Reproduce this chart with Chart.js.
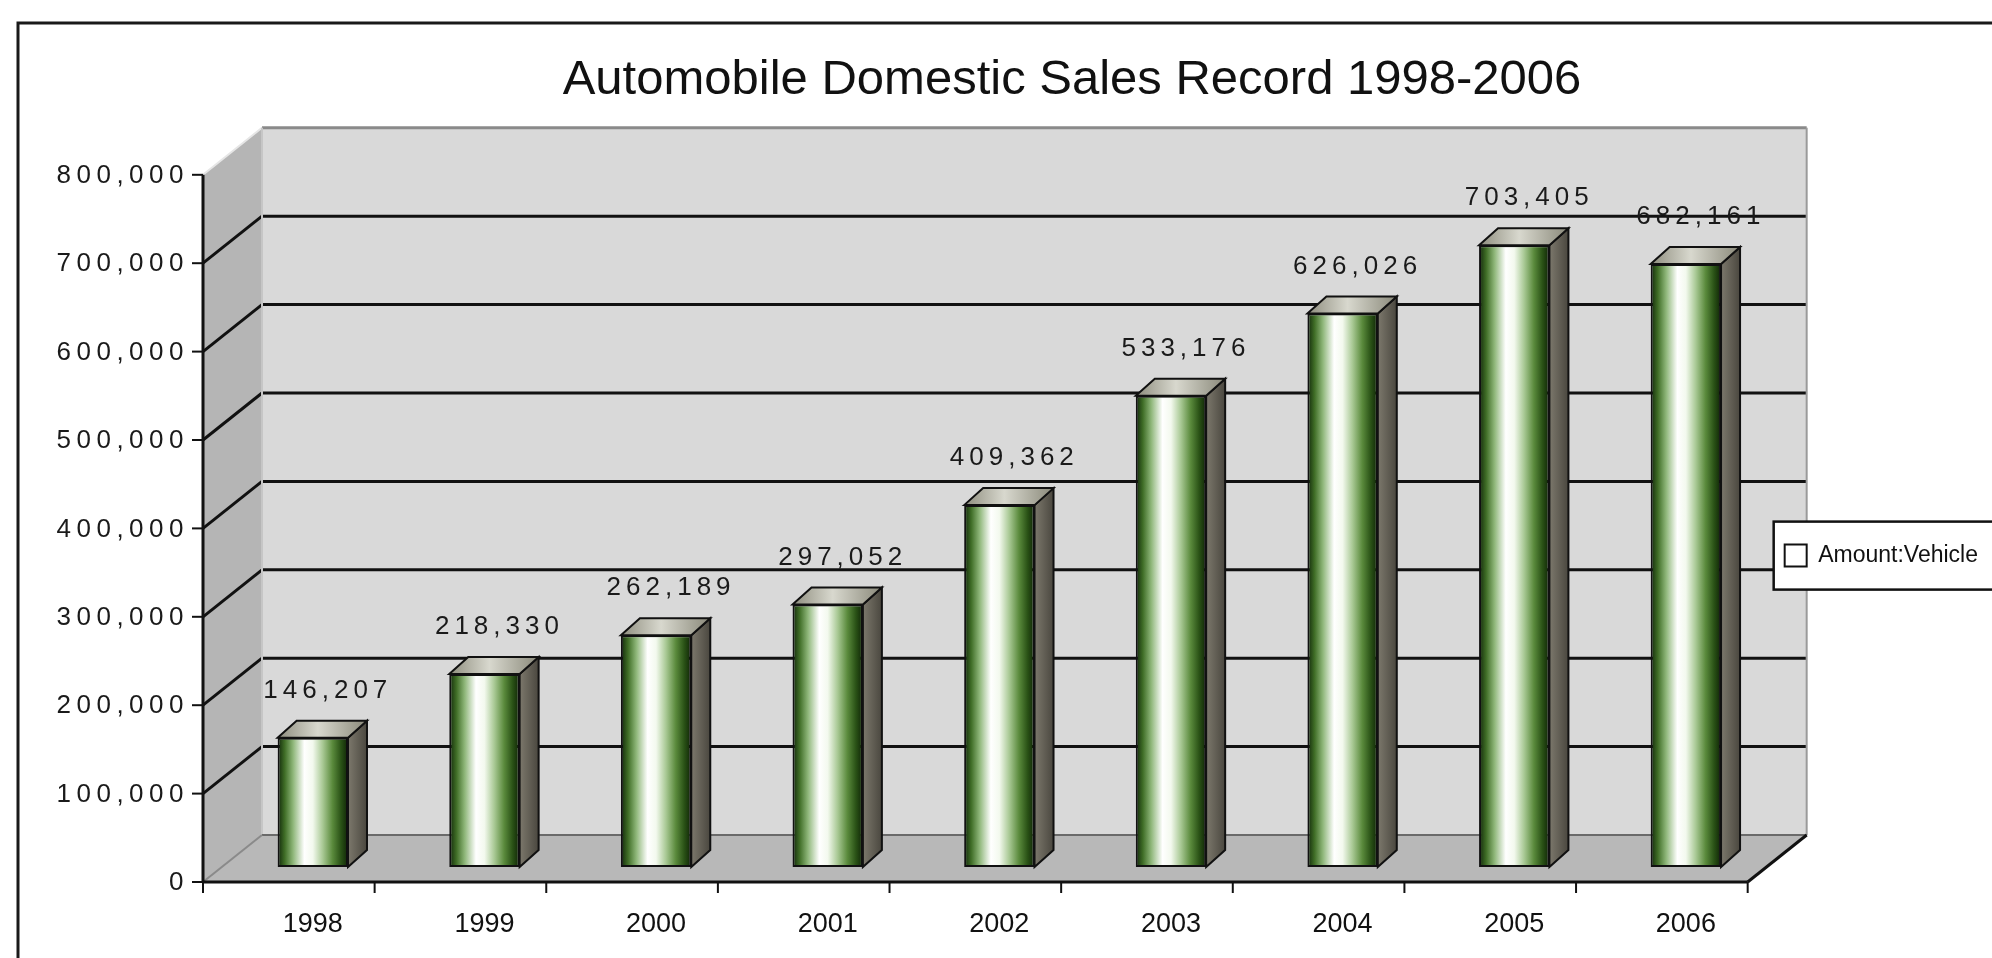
<!DOCTYPE html>
<html>
<head>
<meta charset="utf-8">
<title>Automobile Domestic Sales Record 1998-2006</title>
<script src="https://cdn.jsdelivr.net/npm/chart.js@4.4.1/dist/chart.umd.min.js"></script>
<style>
  html, body { margin: 0; padding: 0; background: #ffffff; overflow: hidden; }
  .chart-container { position: relative; width: 1992px; height: 958px; }
</style>
</head>
<body>
<div class="chart-container">
  <canvas id="salesChart"></canvas>
</div>
<script>
const years = ['1998', '1999', '2000', '2001', '2002', '2003', '2004', '2005', '2006'];
const vehicles = [146207, 218330, 262189, 297052, 409362, 533176, 626026, 703405, 682161];
const yTicks = [0, 100000, 200000, 300000, 400000, 500000, 600000, 700000, 800000];
const seriesLabel = 'Amount:Vehicle';
const chartTitle = 'Automobile Domestic Sales Record 1998-2006';

// 3D look: offsets from the bar plane (the chart area) to the front edge and the back wall
const FRONT = { x: -24, y: 15 };
const BACK = { x: 35, y: -32 };
const BAR_DEPTH = { x: 19, y: 17 };
const BAR_PCT = 0.41;
const LABEL_FONT = '26px Arial, "Liberation Sans", sans-serif';

const fmt = v => v.toLocaleString('en-US');

function frontGradient(context) {
  const chart = context.chart;
  const xs = chart.scales.x;
  if (context.type !== 'data' || !chart.chartArea || !xs) return '#ffffff';
  const step = xs.width / years.length;
  const cx = xs.getPixelForValue(context.dataIndex);
  const half = step * BAR_PCT / 2;
  const g = chart.ctx.createLinearGradient(cx - half, 0, cx + half, 0);
  g.addColorStop(0, '#10260a');
  g.addColorStop(0.1, '#3f6d26');
  g.addColorStop(0.22, '#8fb77a');
  g.addColorStop(0.38, '#ffffff');
  g.addColorStop(0.5, '#f3f9ee');
  g.addColorStop(0.64, '#a9c995');
  g.addColorStop(0.78, '#5a8a3c');
  g.addColorStop(0.9, '#2a5216');
  g.addColorStop(1, '#0f2406');
  return g;
}

function line(ctx, x1, y1, x2, y2, color, w) {
  ctx.beginPath();
  ctx.moveTo(x1, y1);
  ctx.lineTo(x2, y2);
  ctx.strokeStyle = color;
  ctx.lineWidth = w;
  ctx.stroke();
}

function poly(ctx, pts, fill) {
  ctx.beginPath();
  pts.forEach((p, i) => (i ? ctx.lineTo(p[0], p[1]) : ctx.moveTo(p[0], p[1])));
  ctx.closePath();
  ctx.fillStyle = fill;
  ctx.fill();
}

// walls, floor, gridlines, axis lines, y tick labels and the legend frame
const frame3d = {
  id: 'frame3d',
  beforeDraw(chart) {
    const { ctx, chartArea: a, scales: { x, y } } = chart;
    const max = yTicks[yTicks.length - 1];
    const fl = a.left + FRONT.x, fr = a.right + FRONT.x;
    const bl = a.left + BACK.x, br = a.right + BACK.x;
    const fy = v => y.getPixelForValue(v) + FRONT.y;
    const by = v => y.getPixelForValue(v) + BACK.y;

    ctx.save();
    ctx.lineCap = 'butt';

    // outer border
    ctx.strokeStyle = '#1a1a1a';
    ctx.lineWidth = 3;
    ctx.strokeRect(18, 23, chart.width + 20, chart.height + 20);

    // back wall, side wall, floor
    poly(ctx, [[bl, by(max)], [br, by(max)], [br, by(0)], [bl, by(0)]], '#d9d9d9');
    poly(ctx, [[fl, fy(max)], [bl, by(max)], [bl, by(0)], [fl, fy(0)]], '#b5b5b5');
    poly(ctx, [[fl, fy(0)], [bl, by(0)], [br, by(0)], [fr, fy(0)]], '#b8b8b8');

    // gridlines
    yTicks.forEach(v => {
      if (v === 0 || v === max) return;
      line(ctx, fl, fy(v), bl, by(v), '#111111', 3);
      line(ctx, bl, by(v), br, by(v), '#111111', 3);
    });
    line(ctx, bl, by(max), br, by(max), '#8a8a8a', 3);
    line(ctx, fl, fy(max), bl, by(max), '#e6e6e6', 2);
    line(ctx, bl, by(max), bl, by(0), '#c6c6c6', 2);
    line(ctx, br, by(max), br, by(0), '#9a9a9a', 2);
    line(ctx, bl, by(0), br, by(0), '#6a6a6a', 2);
    line(ctx, fl, fy(0), bl, by(0), '#8a8a8a', 2);

    // front axis lines
    line(ctx, fl, fy(max), fl, fy(0) + 1, '#111111', 3);
    line(ctx, fl, fy(0), fr, fy(0), '#111111', 3);
    line(ctx, fr, fy(0), br, by(0), '#111111', 3);

    // category tick marks on the front edge
    const step = x.width / years.length;
    for (let i = 0; i <= years.length; i++) {
      const px = fl + i * step;
      line(ctx, px, fy(0), px, fy(0) + 11, '#111111', 2);
    }

    // value tick marks and labels on the front edge
    ctx.font = LABEL_FONT;
    ctx.letterSpacing = '5.5px';
    ctx.fillStyle = '#1a1a1a';
    ctx.textAlign = 'right';
    ctx.textBaseline = 'middle';
    yTicks.forEach(v => {
      line(ctx, fl - 11, fy(v), fl, fy(v), '#111111', 2);
      ctx.fillText(fmt(v), fl - 14, fy(v) + 1);
    });
    ctx.letterSpacing = '0px';

    // legend frame
    const lg = chart.legend;
    if (lg && lg.legendHitBoxes && lg.legendHitBoxes.length) {
      const hb = lg.legendHitBoxes[0];
      const cy = hb.top + hb.height / 2;
      ctx.fillStyle = '#ffffff';
      ctx.fillRect(hb.left - 11, cy - 34, chart.width, 68);
      ctx.strokeStyle = '#111111';
      ctx.lineWidth = 2.5;
      ctx.strokeRect(hb.left - 11, cy - 34, chart.width, 68);
    }
    ctx.restore();
  },

  // side and top faces of the bars, then the value labels
  afterDatasetsDraw(chart) {
    const { ctx } = chart;
    const meta = chart.getDatasetMeta(0);
    ctx.save();
    meta.data.forEach((bar, i) => {
      const { x: cx, y: top, base, width } = bar.getProps(['x', 'y', 'base', 'width'], true);
      const l = cx - width / 2, r = cx + width / 2;
      const dx = BAR_DEPTH.x, dy = BAR_DEPTH.y;

      const side = ctx.createLinearGradient(r, 0, r + dx, 0);
      side.addColorStop(0, '#7c786c');
      side.addColorStop(1, '#4a473f');
      ctx.beginPath();
      ctx.moveTo(r, top);
      ctx.lineTo(r + dx, top - dy);
      ctx.lineTo(r + dx, base - dy);
      ctx.lineTo(r, base);
      ctx.closePath();
      ctx.fillStyle = side;
      ctx.fill();
      ctx.strokeStyle = '#111111';
      ctx.lineWidth = 2;
      ctx.stroke();

      const cap = ctx.createLinearGradient(l, 0, r + dx, 0);
      cap.addColorStop(0, '#8e8d7e');
      cap.addColorStop(0.45, '#d8d8ce');
      cap.addColorStop(1, '#8a897a');
      ctx.beginPath();
      ctx.moveTo(l, top);
      ctx.lineTo(l + dx, top - dy);
      ctx.lineTo(r + dx, top - dy);
      ctx.lineTo(r, top);
      ctx.closePath();
      ctx.fillStyle = cap;
      ctx.fill();
      ctx.stroke();

      ctx.font = LABEL_FONT;
      ctx.letterSpacing = '5px';
      ctx.fillStyle = '#1a1a1a';
      ctx.textAlign = 'center';
      ctx.textBaseline = 'middle';
      ctx.fillText(fmt(vehicles[i]), cx + 15, top - 47);
    });
    ctx.letterSpacing = '0px';
    ctx.restore();
  }
};

const ctx = document.getElementById('salesChart').getContext('2d');
new Chart(ctx, {
  type: 'bar',
  data: {
    labels: years,
    datasets: [{
      label: seriesLabel,
      data: vehicles,
      backgroundColor: frontGradient,
      borderColor: '#111111',
      borderWidth: 2,
      borderSkipped: false,
      barPercentage: BAR_PCT,
      categoryPercentage: 1
    }]
  },
  options: {
    responsive: true,
    maintainAspectRatio: false,
    animation: false,
    layout: { padding: { top: 0, left: 156, right: 4, bottom: 0 } },
    scales: {
      x: {
        grid: { display: false, drawTicks: false, tickLength: 0 },
        border: { display: false },
        ticks: {
          color: '#111111',
          padding: 41,
          font: { family: 'Arial, "Liberation Sans", sans-serif', size: 27 }
        },
        afterFit(scale) { scale.height = 91; }
      },
      y: {
        min: 0,
        max: 800000,
        ticks: { display: false, stepSize: 100000 },
        grid: { display: false, drawTicks: false },
        border: { display: false },
        afterFit(scale) { scale.width = 71; }
      }
    },
    plugins: {
      title: {
        display: true,
        text: chartTitle,
        color: '#111111',
        font: { family: 'Arial, "Liberation Sans", sans-serif', size: 49, weight: 'normal' },
        padding: { top: 51, bottom: 50 }
      },
      legend: {
        display: true,
        position: 'right',
        fullSize: false,
        maxWidth: 218,
        title: { display: true, text: ' ', font: { size: 12 }, padding: { top: 0, bottom: 70 } },
        labels: {
          padding: 13,
          boxWidth: 22,
          boxHeight: 22,
          color: '#111111',
          font: { family: 'Arial, "Liberation Sans", sans-serif', size: 23 },
          generateLabels(chart) {
            const items = Chart.defaults.plugins.legend.labels.generateLabels(chart);
            items.forEach(it => { it.fillStyle = '#ffffff'; it.strokeStyle = '#111111'; it.lineWidth = 2; });
            return items;
          }
        }
      },
      tooltip: { enabled: false }
    }
  },
  plugins: [frame3d]
});
</script>
</body>
</html>
